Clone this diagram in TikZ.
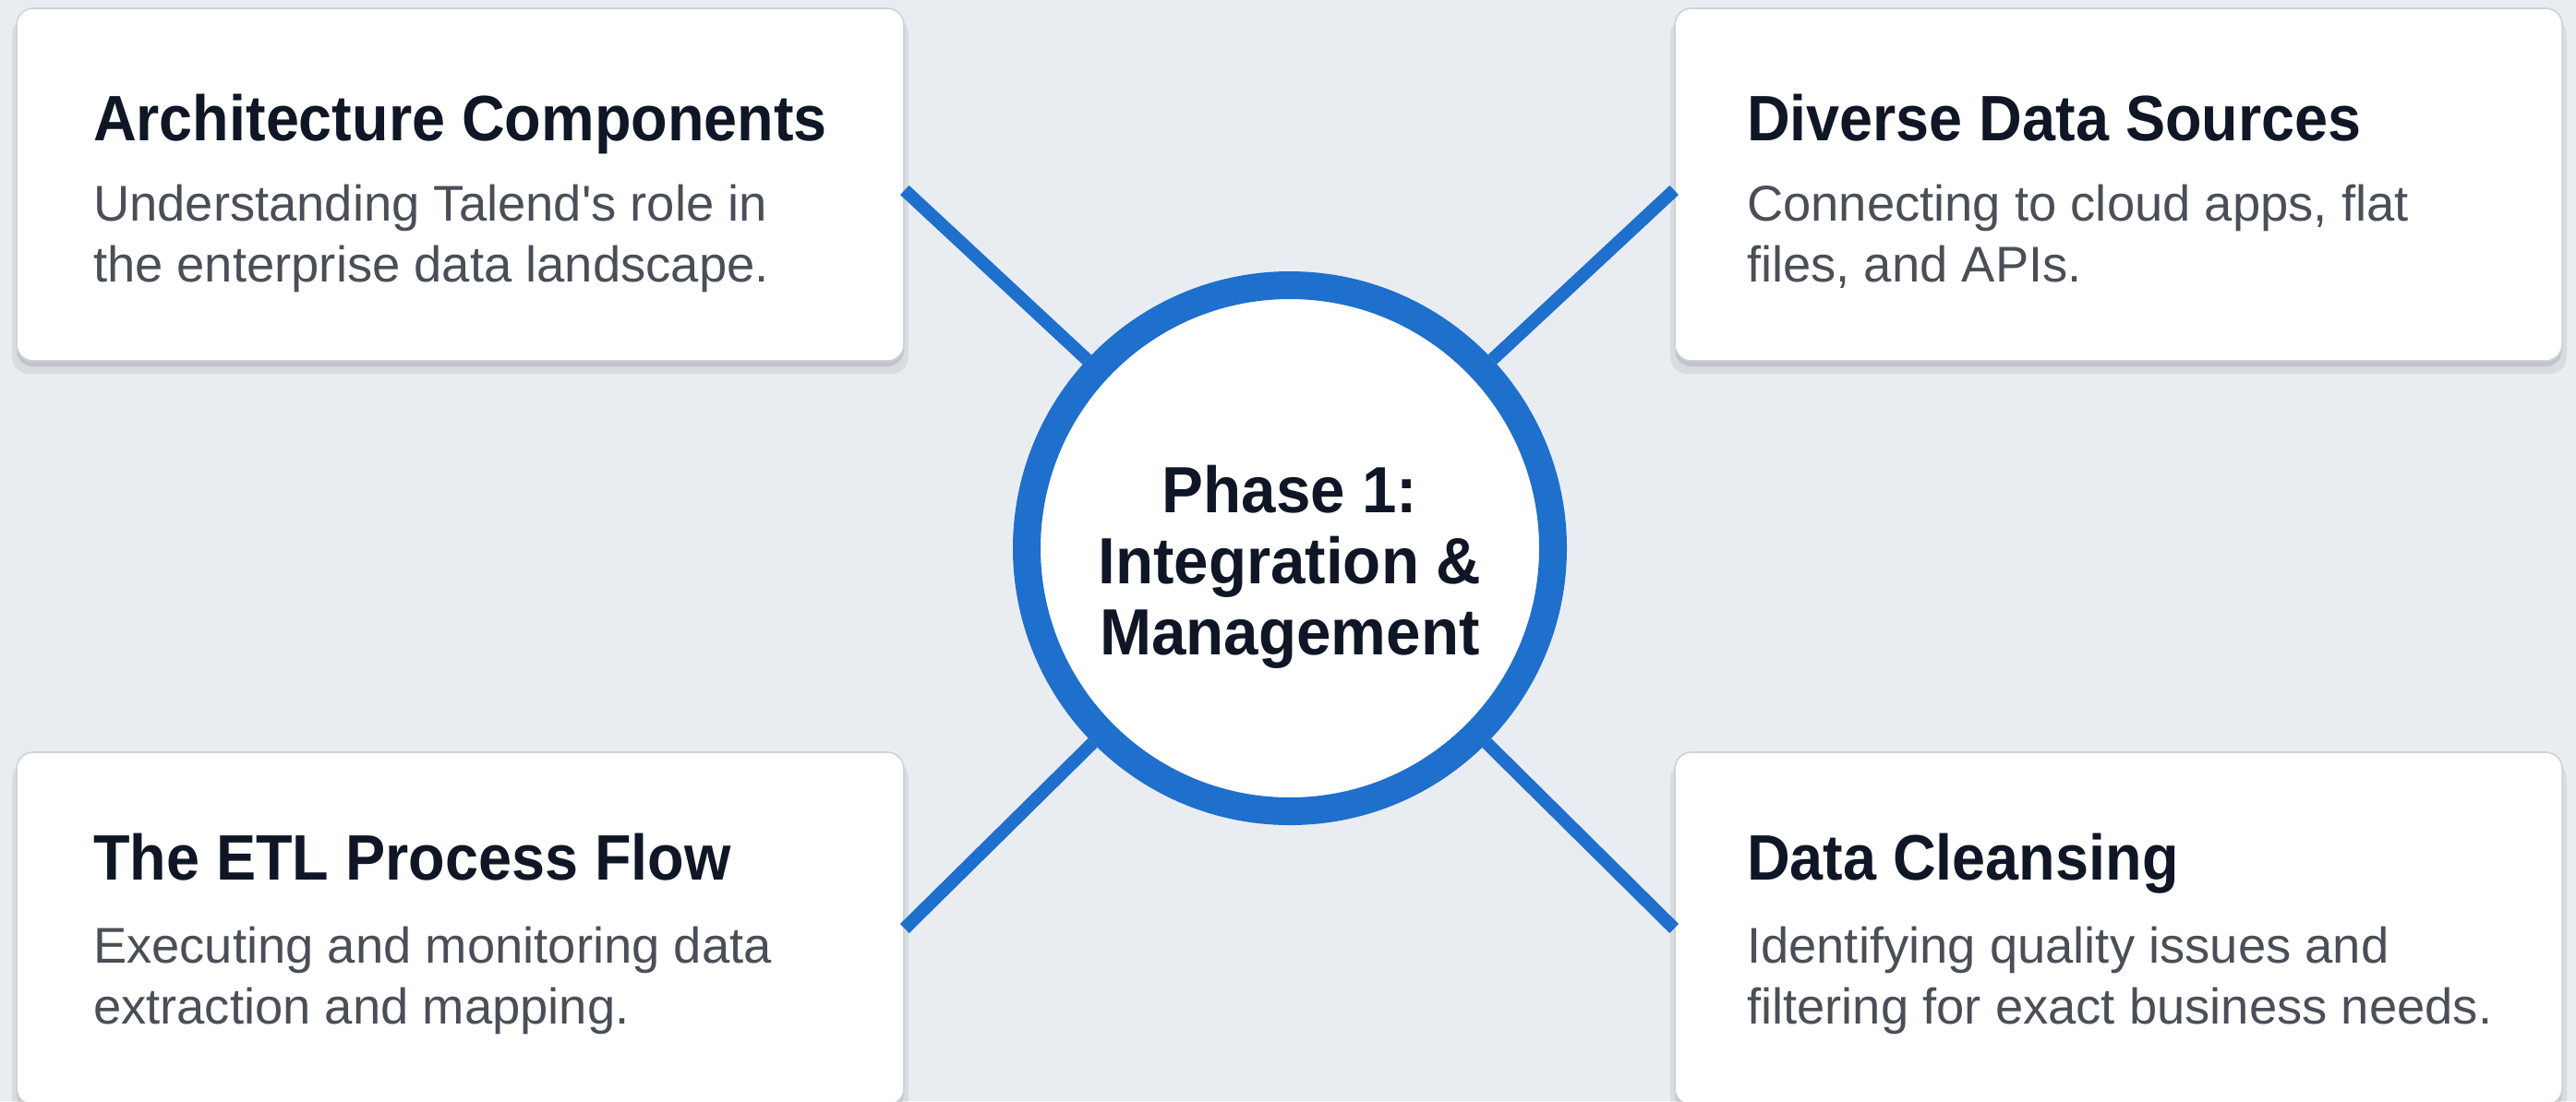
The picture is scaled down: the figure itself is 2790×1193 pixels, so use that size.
\documentclass[tikz,border=0pt]{standalone}
\usepackage{fontspec}
\setmainfont{Liberation Sans}
\newfontfamily\titlefont[FakeStretch=0.93]{Liberation Sans}
\newfontfamily\centrefont[FakeStretch=0.95]{Liberation Sans}
\usetikzlibrary{shadows}
\definecolor{bgc}{HTML}{E9EDF2}
\definecolor{ringblue}{HTML}{1F6FCC}
\definecolor{titlec}{HTML}{0F1626}
\definecolor{bodyc}{HTML}{4A4F57}
\definecolor{cardline}{HTML}{CDD2D9}
\tikzset{
  card/.style={rectangle, rounded corners=4.5pt, fill=white, draw=cardline, line width=0.4pt,
    minimum width=240.25pt, minimum height=95.5pt, inner sep=0pt,
    drop shadow={shadow xshift=0pt, shadow yshift=-3pt, opacity=0.07, fill=black, shadow scale=1.01},
    drop shadow={shadow xshift=0pt, shadow yshift=-1.5pt, opacity=0.10, fill=black}},
  cardtitle/.style={anchor=base west, inner sep=0pt, text=titlec, font=\titlefont\bfseries\fontsize{17.4pt}{20pt}\selectfont},
  cardbody/.style={anchor=base west, inner sep=0pt, text=bodyc, font=\fontsize{13.6pt}{16.5pt}\selectfont},
  hub/.style={circle, draw=ringblue, line width=7.5pt, fill=white, minimum size=142.5pt, inner sep=0pt},
  hubtext/.style={align=center, inner sep=0pt, text=titlec, font=\centrefont\bfseries\fontsize{17.7pt}{19.25pt}\selectfont},
  spoke/.style={draw=ringblue, line width=3.5pt}
}
\begin{document}
\begin{tikzpicture}[x=0.25pt, y=-0.25pt]
\useasboundingbox[fill=bgc] (0,0) rectangle (2790,1193);
% cards
\node[card] (tl) at (498.5,200) {};
\node[card] (tr) at (2294.5,200) {};
\node[card] (bl) at (498.5,1006) {};
\node[card] (br) at (2294.5,1006) {};
% hub
\node[hub] (hub) at (1397,594) {};
% spokes
\draw[spoke] ([yshift=-1.5pt]tl.east) -- (hub);
\draw[spoke] ([yshift=-1.5pt]tr.west) -- (hub);
\draw[spoke] (bl.east) -- (hub);
\draw[spoke] (br.west) -- (hub);
% hub text
\node[hubtext] (hubt) at (1397,614) {Phase 1:\\Integration \&\\Management};
% card texts
\node[cardtitle] (tlt) at ([shift={(83,144)}]tl.north west) {Architecture Components};
\node[cardbody] (tlb1) at ([shift={(83,231)}]tl.north west) {Understanding Talend\textquotesingle s role in};
\node[cardbody] (tlb2) at ([shift={(83,297)}]tl.north west) {the enterprise data landscape.};
\node[cardtitle] (trt) at ([shift={(78,144)}]tr.north west) {Diverse Data Sources};
\node[cardbody] (trb1) at ([shift={(78,231)}]tr.north west) {Connecting to cloud apps, flat};
\node[cardbody] (trb2) at ([shift={(78,297)}]tr.north west) {files, and APIs.};
\node[cardtitle] (blt) at ([shift={(83,139)}]bl.north west) {The ETL Process Flow};
\node[cardbody] (blb1) at ([shift={(83,229)}]bl.north west) {Executing and monitoring data};
\node[cardbody] (blb2) at ([shift={(83,295)}]bl.north west) {extraction and mapping.};
\node[cardtitle] (brt) at ([shift={(78,139)}]br.north west) {Data Cleansing};
\node[cardbody] (brb1) at ([shift={(78,229)}]br.north west) {Identifying quality issues and};
\node[cardbody] (brb2) at ([shift={(78,295)}]br.north west) {filtering for exact business needs.};
\end{tikzpicture}
\end{document}
